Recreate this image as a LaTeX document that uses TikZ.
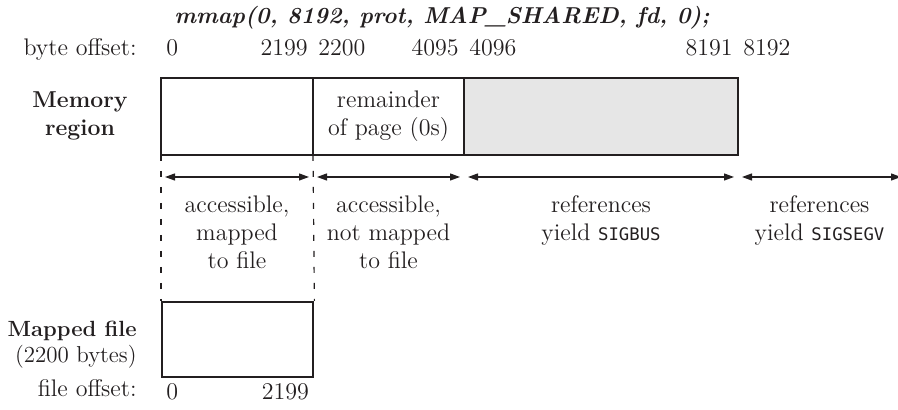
\documentclass[tikz,border=0pt]{standalone}
\usepackage{fontspec}
\usepackage{tikz}
\usetikzlibrary{arrows.meta,calc,positioning}
\newfontfamily\codefont{DejaVu Sans Mono}[Scale=0.72]
\definecolor{Shade}{HTML}{E6E6E6}
\definecolor{Ink}{HTML}{231F20}

\begin{document}
\begin{tikzpicture}[>=Latex, node distance=0pt,
    every node/.style={font=\fontsize{12}{14}\selectfont, text=Ink},
    cell/.style={draw=Ink, line width=0.5pt, inner sep=0pt, minimum height=38pt, align=center},
    outline/.style={draw=Ink, line width=1.2pt},
    span/.style={{Triangle[length=5pt,width=3.5pt]}-{Triangle[length=5pt,width=3.5pt]}, draw=Ink, line width=0.6pt},
    guide/.style={draw=Ink, line width=0.6pt, dash pattern=on 3pt off 5pt},
    note/.style={anchor=north, inner sep=0pt, align=center},
    offl/.style={anchor=base west, inner sep=0pt, xshift=2.5pt},
    offr/.style={anchor=base east, inner sep=0pt, xshift=-2.5pt}]
    \useasboundingbox (-80.5pt,39pt) rectangle (368.5pt,-166pt);
    \node[anchor=base, inner sep=0pt, font=\fontsize{11.5}{14}\selectfont\bfseries\itshape] (title) at (140.5pt,27pt) {mmap(0, 8192, prot, MAP\_SHARED, fd, 0);};
    \node[cell, anchor=north west, minimum width=75.5pt] (cellA) at (0,0) {};
    \node[cell, minimum width=75pt, right=of cellA] (cellB) {remainder\\of page (0s)};
    \node[cell, fill=Shade, minimum width=136.5pt, right=of cellB] (cellC) {};
    \draw[outline] (cellA.north west) rectangle (cellC.south east);
    \node[align=center, inner sep=0pt, font=\fontsize{11.5}{14}\selectfont\bfseries] (memlabel) at (-40.5pt,-19pt) {Memory\\region};
    \node[anchor=base east, inner sep=0pt] (bytelabel) at (-12pt,11pt) {byte offset:};
    \node[offl] (b0) at ([yshift=11pt]cellA.north west) {0};
    \node[offr] (b2199) at ([yshift=11pt]cellA.north east) {2199};
    \node[offl] (b2200) at ([yshift=11pt]cellB.north west) {2200};
    \node[offr] (b4095) at ([yshift=11pt]cellB.north east) {4095};
    \node[offl] (b4096) at ([yshift=11pt]cellC.north west) {4096};
    \node[offr] (b8191) at ([yshift=11pt]cellC.north east) {8191};
    \node[offl] (b8192) at ([yshift=11pt]cellC.north east) {8192};
    \coordinate (p0) at ([yshift=-11pt]cellA.south west);
    \coordinate (p1) at ([yshift=-11pt]cellA.south east);
    \coordinate (p2) at ([yshift=-11pt]cellB.south east);
    \coordinate (p3) at ([yshift=-11pt]cellC.south east);
    \coordinate (p4) at ($(p3)+(81.5pt,0)$);
    \draw[span] ([xshift=2pt]p0) -- ([xshift=-2pt]p1);
    \draw[span] ([xshift=2pt]p1) -- ([xshift=-2pt]p2);
    \draw[span] ([xshift=2pt]p2) -- ([xshift=-2pt]p3);
    \draw[span] ([xshift=2pt]p3) -- (p4);
    \node[note] (mapped) at ($(p0)!0.5!(p1)+(0,-9pt)$) {accessible,\\mapped\\to file};
    \node[note] (notmapped) at ($(p1)!0.5!(p2)+(0,-9pt)$) {accessible,\\not mapped\\to file};
    \node[note] (sigbus) at ($(p2)!0.5!(p3)+(0,-9pt)$) {references\\yield {\codefont SIGBUS}};
    \node[note] (sigsegv) at ($(p3)!0.5!(p4)+(0,-9pt)$) {references\\yield {\codefont SIGSEGV}};
    \node[cell, line width=1.2pt, anchor=north west, minimum width=75.5pt, minimum height=37.5pt] (file) at (0,-111.5pt) {};
    \draw[guide] (cellA.south west) -- (file.north west);
    \draw[guide] (cellA.south east) -- (file.north east);
    \node[anchor=base east, inner sep=0pt, align=right, font=\fontsize{11.5}{13}\selectfont] (filelabel) at (-12pt,-142.5pt) {{\fontsize{11}{13}\selectfont\bfseries Mapped file}\\(2200 bytes)};
    \node[anchor=base east, inner sep=0pt] (offlabel) at (-12pt,-159.5pt) {file offset:};
    \node[offl] (f0) at ([yshift=-10.5pt]file.south west) {0};
    \node[offr] (f2199) at ([yshift=-10.5pt]file.south east) {2199};
  \end{tikzpicture}
\end{document}
